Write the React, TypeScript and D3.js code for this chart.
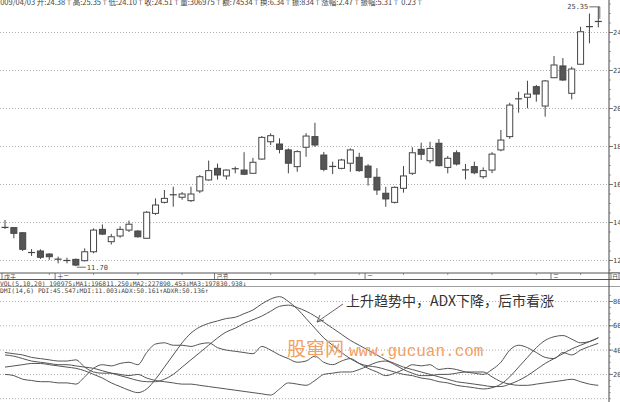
import React from "react";
import * as d3 from "d3";

const opens = [13.74,13.73,13.46,12.42,12.5,12.34,12.07,12.0,12.06,11.99,12.46,13.64,12.99,13.29,13.6,13.55,13.17,14.48,15.06,15.46,15.33,15.15,15.66,16.24,16.85,16.45,16.83,16.76,16.59,17.34,18.25,18.13,17.82,16.94,17.96,18.52,17.55,16.95,16.85,17.12,17.43,16.97,16.38,15.54,15.06,15.8,16.59,17.85,17.25,18.17,16.9,17.67,16.77,16.94,16.41,16.76,17.82,18.52,20.51,20.59,21.15,20.13,21.62,22.24,20.8,22.33,24.31,24.58];
const highs = [14.13,13.76,13.5,12.6,12.59,12.38,12.2,12.15,12.1,12.64,13.69,13.9,13.4,13.8,14.1,13.6,14.6,15.27,15.71,15.88,15.6,15.88,16.5,17.26,17.1,16.8,16.94,17.7,17.4,18.55,18.69,18.43,17.9,17.8,18.7,19.25,17.71,17.2,17.35,17.9,17.67,17.07,16.86,15.88,15.9,16.97,17.96,18.2,18.25,18.39,17.5,17.8,17.08,17.2,16.9,17.7,18.87,20.3,20.88,21.46,21.24,21.5,22.76,22.66,22.2,24.3,25.0,25.35];
const lows = [13.66,13.17,12.5,12.24,12.08,12.03,11.85,11.85,11.7,11.95,12.38,13.34,12.84,13.2,13.5,13.2,13.14,14.4,15.0,14.83,15.2,15.08,15.55,16.2,16.26,16.26,16.59,16.5,16.57,17.3,18.08,17.64,16.59,16.67,17.46,17.99,16.7,16.55,16.8,16.67,16.67,15.94,15.45,14.83,15.0,15.57,16.5,17.29,17.12,16.95,16.59,17.0,16.27,16.54,16.3,16.6,17.75,18.4,19.78,20.01,20.36,19.57,21.6,21.45,20.48,22.3,23.43,24.27];
const closes = [13.72,13.43,12.59,12.41,12.17,12.2,12.06,11.99,11.76,12.46,13.6,13.39,13.25,13.64,13.91,13.25,14.54,14.92,15.27,15.45,15.5,15.5,16.41,16.73,16.5,16.76,16.82,16.54,17.17,18.48,18.57,17.85,17.12,17.73,18.55,18.08,16.8,16.94,17.29,17.82,16.73,16.38,15.71,15.24,15.85,16.45,17.67,17.59,17.9,16.99,17.38,17.08,16.76,16.62,16.73,17.6,18.34,20.18,20.5,20.76,20.76,21.45,22.29,21.5,22.08,24.04,24.3,24.57];

const adx = [26,27,28,29,29,28,27,26,25,23,20,17,13,10,7,5,8,16,26,36,46,54,59,62,64,66,67,70,73,78,82,84,80,74,66,58,50,44,38,33,29,27,26,24,22,20,19,17,16,14,13,11,10,9,8,9,12,18,26,34,42,48,51,52,49,46,47,50.16];
const adxr = [36,35,33,31,30,29,28,28,27,26,25,23,21,19,17,15,14,14,16,20,26,32,38,44,50,55,58,62,65,68,72,76,77,75,72,68,63,58,53,48,44,40,36,32,29,26,24,22,20,18,16,14,13,12,11,10,10,12,15,19,24,29,33,37,41,44,47,50.14];
const pdi = [20,19,16,15,14,14,13,13,12,18,25,28,27,29,30,28,38,45,46,44,44,43,45,46,42,40,39,38,37,43,40,36,33,30,31,35,30,28,31,33,29,25,22,19,21,24,28,27,28,24,25,24,22,21,20,24,30,40,44,42,38,34,33,38,36,40,43,45.55];
const mdi = [38,37,36,34,33,32,31,31,32,26,22,21,21,20,19,20,17,15,14,13,12,12,11,10,9,8,7,6,5,4,3,8,13,12,11,15,20,21,22,22,24,27,30,31,28,24,21,19,19,20,20,21,22,22,22,18,14,12,11,11,12,13,14,15,16,14,12,11.0];

const priceTicks = [24, 22, 20, 18, 16, 14, 12];
const dmiTicks = [80, 60, 40, 20];
const dateLabels = [
  { i: 0, t: "戊子" },
  { i: 6, t: "十二" },
  { i: 24, t: "己丑" },
  { i: 41, t: "二" },
  { i: 62, t: "三" },
];
const headerText = "2009/04/03 开:24.38↑高:25.35↑低:24.10↑收:24.51↑量:306975↑额:74534↑换:6.34↑振:834↑涨幅:2.47↑振幅:5.31↑ 0.23↑";
const volText = "VOL(5,10,20) 190975↓MA1:196811.250↓MA2:227890.453↓MA3:197830.938↓";
const dmiText = "DMI(14,6) PDI:45.547↓MDI:11.003↓ADX:50.161↑ADXR:50.136↑";
const note = "上升趋势中，ADX下降，后市看涨";
const highLabel = "25.35";
const lowLabel = "11.70";

export default function App() {
  const W = 620, H = 402;
  const axisX = 609;
  const x = d3.scaleLinear().domain([0, 67]).range([5, 598.3]);
  const yP = d3.scaleLinear().domain([12, 24]).range([260.5, 32.5]);
  const yD = d3.scaleLinear().domain([0, 80]).range([398.7, 301.5]);
  const line = (arr: number[]) =>
    d3.line<number>().x((_, i) => x(i)).y((v) => yD(v)).curve(d3.curveMonotoneX)(arr) || "";
  const stroke = "#555";
  const mono = "'DejaVu Sans Mono', monospace";
  const minorP = d3.range(11.5, 25.6, 0.5);
  const minorD = d3.range(0, 90, 5);
  const hiIdx = highs.indexOf(d3.max(highs)!);
  const loIdx = lows.indexOf(d3.min(lows)!);
  return (
    <svg width={W} height={H} style={{ position: "absolute", left: 0, top: 0, background: "#fff" }}>
      <rect width={W} height={H} fill="#fff" />
      {/* header */}
      <text x={-4} y={5} fontSize={7.5} fill="#444" fontFamily="'Noto Sans CJK SC', sans-serif">{headerText}</text>
      {/* price grid */}
      {priceTicks.map((t) => (
        <g key={"pg" + t}>
          <line x1={0} x2={axisX} y1={yP(t)} y2={yP(t)} stroke="#999" strokeWidth={0.8} strokeDasharray="1,2" />
          <line x1={axisX} x2={axisX + 4} y1={yP(t)} y2={yP(t)} stroke="#555" strokeWidth={0.8} />
          <text x={axisX + 4} y={yP(t) + 2.5} fontSize={7} fill="#444" fontFamily={mono}>{t}</text>
        </g>
      ))}
      {minorP.map((t) => (
        <line key={"mp" + t} x1={axisX} x2={axisX + 2} y1={yP(t)} y2={yP(t)} stroke="#777" strokeWidth={0.6} />
      ))}
      {/* candles */}
      {opens.map((o, i) => {
        const c = closes[i];
        const cx = x(i);
        const up = c > o + 0.02;
        const down = o > c + 0.02;
        const top = yP(Math.max(o, c));
        const bot = yP(Math.min(o, c));
        return (
          <g key={"c" + i}>
            <line x1={cx} x2={cx} y1={yP(highs[i])} y2={top} stroke="#444" strokeWidth={1} />
            <line x1={cx} x2={cx} y1={bot} y2={yP(lows[i])} stroke="#444" strokeWidth={1} />
            {up || down ? (
              <rect x={cx - 3} y={top} width={6} height={Math.max(1, bot - top)} fill={down ? "#555" : "#fff"} stroke="#444" strokeWidth={1} />
            ) : (
              <line x1={cx - 3.5} x2={cx + 3.5} y1={top} y2={top} stroke="#444" strokeWidth={1.2} />
            )}
          </g>
        );
      })}
      {/* high / low labels */}
      <line x1={x(hiIdx) - 9} x2={x(hiIdx) + 1.5} y1={yP(highs[hiIdx])} y2={yP(highs[hiIdx])} stroke="#444" strokeWidth={0.8} />
      <line x1={x(hiIdx) + 1.5} x2={x(hiIdx) + 1.5} y1={yP(highs[hiIdx])} y2={yP(highs[hiIdx]) + 12} stroke="#444" strokeWidth={0.8} />
      <text x={x(hiIdx) - 10} y={yP(highs[hiIdx]) + 2.5} fontSize={7} fill="#444" textAnchor="end" fontFamily={mono}>{highLabel}</text>
      <line x1={x(loIdx) + 1} x2={x(loIdx) + 10} y1={yP(lows[loIdx]) + 1} y2={yP(lows[loIdx]) + 1} stroke="#444" strokeWidth={0.8} />
      <text x={x(loIdx) + 11} y={yP(lows[loIdx]) + 3.5} fontSize={7} fill="#444" fontFamily={mono}>{lowLabel}</text>
      {/* date strip */}
      <line x1={0} x2={W} y1={273} y2={273} stroke="#555" strokeWidth={1} />
      <line x1={0} x2={W} y1={279.5} y2={279.5} stroke="#555" strokeWidth={1} />
      <line x1={0} x2={W} y1={286.5} y2={286.5} stroke="#888" strokeWidth={0.8} />
      {d3.range(5, 68, 5).map((i) => (
        <line key={"dt" + i} x1={x(i)} x2={x(i)} y1={273} y2={275} stroke="#777" strokeWidth={0.8} />
      ))}
      {dateLabels.map((d) => (
        <g key={"dl" + d.i}>
          <line x1={x(d.i) - 3} x2={x(d.i) - 3} y1={273} y2={279.5} stroke="#555" strokeWidth={0.8} />
          <text x={x(d.i) - 1} y={278.6} fontSize={6} fill="#444" fontFamily="'Noto Sans CJK SC', sans-serif">{d.t}</text>
        </g>
      ))}
      <rect x={axisX + 2} y={273} width={8} height={6.5} fill="#fff" stroke="#555" strokeWidth={0.8} />
      <text x={axisX + 3} y={278.6} fontSize={6} fill="#444" fontFamily="'Noto Sans CJK SC', sans-serif">日</text>
      <text x={0} y={285.6} fontSize={6.3} fill="#444" fontFamily={mono}>{volText}</text>
      <text x={0} y={293} fontSize={6.3} fill="#444" fontFamily={mono}>{dmiText}</text>
      {/* dmi grid */}
      {dmiTicks.map((t) => (
        <g key={"dg" + t}>
          <line x1={0} x2={axisX} y1={yD(t)} y2={yD(t)} stroke="#999" strokeWidth={0.8} strokeDasharray="1,2" />
          <line x1={axisX} x2={axisX + 4} y1={yD(t)} y2={yD(t)} stroke="#555" strokeWidth={0.8} />
          <text x={axisX + 4} y={yD(t) + 2.5} fontSize={7} fill="#444" fontFamily={mono}>{t}</text>
        </g>
      ))}
      {minorD.map((t) => (
        <line key={"md" + t} x1={axisX} x2={axisX + 2} y1={yD(t)} y2={yD(t)} stroke="#777" strokeWidth={0.6} />
      ))}
      <line x1={0} x2={axisX} y1={yD(0)} y2={yD(0)} stroke="#999" strokeWidth={0.8} strokeDasharray="1,2" />
      {/* dmi lines */}
      {[pdi, mdi, adx, adxr].map((s, k) => (
        <path key={"l" + k} d={line(s)} fill="none" stroke={stroke} strokeWidth={1} />
      ))}
      {/* axis */}
      <line x1={axisX} x2={axisX} y1={0} y2={H} stroke="#444" strokeWidth={1} />
      {/* annotation */}
      <text x={346} y={306} fontSize={14} fill="#333" fontFamily="'Noto Sans CJK SC', sans-serif">{note}</text>
      <line x1={343} y1={304} x2={317} y2={322} stroke="#555" strokeWidth={0.9} />
      <line x1={317} y1={322} x2={320} y2={315} stroke="#555" strokeWidth={0.9} />
      <line x1={317} y1={322} x2={324} y2={320} stroke="#555" strokeWidth={0.9} />
      {/* watermark */}
      <text x={287} y={356} fill="#f3a063" fontSize={19}>
        <tspan fontFamily="'Noto Sans CJK SC', sans-serif">股窜网</tspan>
        <tspan fontFamily="'Liberation Mono', monospace" fontSize={16} dx={5}>www.gucuan.com</tspan>
      </text>
    </svg>
  );
}
